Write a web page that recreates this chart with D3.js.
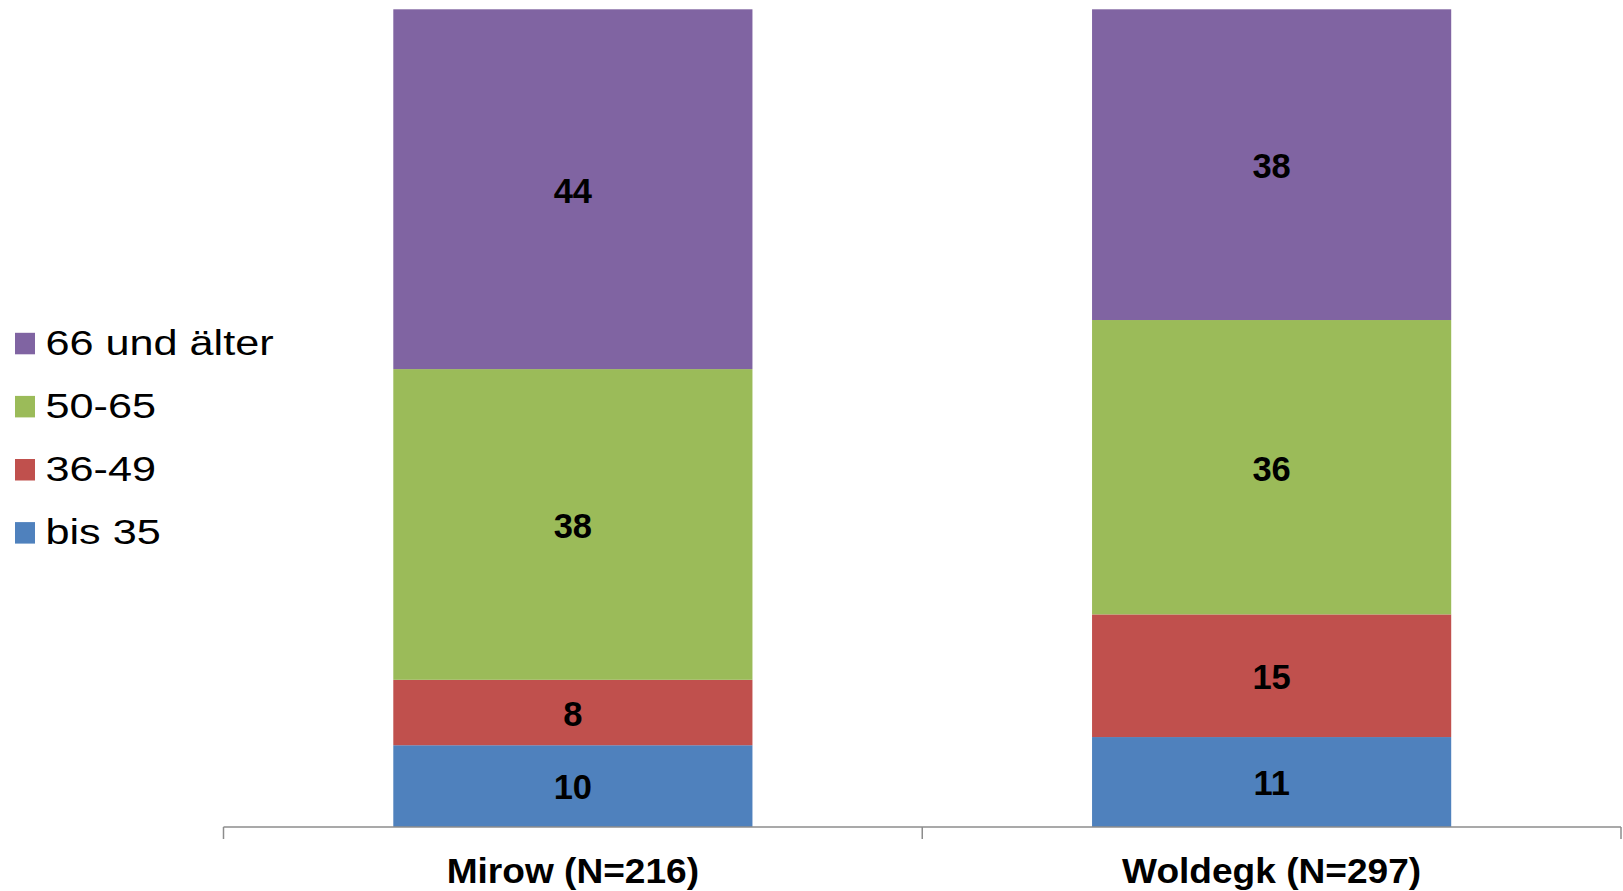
<!DOCTYPE html>
<html>
<head>
<meta charset="utf-8">
<script src="https://cdn.jsdelivr.net/npm/d3@7"></script>
<style>
  html, body { margin: 0; padding: 0; background: #fff; }
  svg { display: block; }
  text { font-family: "Liberation Sans", Arial, sans-serif; }
</style>
</head>
<body>
<svg id="chart" width="1623" height="891"></svg>
<script>
// Age groups of respondents per municipality (percent)
const categories = ["Mirow (N=216)", "Woldegk (N=297)"];
const ageGroups = ["bis 35", "36-49", "50-65", "66 und älter"];
const bis35 = [10, 11];
const age36to49 = [8, 15];
const age50to65 = [38, 36];
const age66plus = [44, 38];
const groupColors = ["#4F81BD", "#C0504D", "#9BBB59", "#8064A2"];

const seriesValues = [bis35, age36to49, age50to65, age66plus];
const rows = categories.map((c, i) => {
  const r = { category: c };
  ageGroups.forEach((g, k) => { r[g] = seriesValues[k][i]; });
  return r;
});

const svg = d3.select("#chart");
const plot = { left: 223.5, right: 1621, top: 9.3, bottom: 827 };

const x = d3.scaleBand()
  .domain(categories)
  .range([plot.left, plot.right])
  .paddingInner(0.486)
  .paddingOuter(0.243);

const y = d3.scaleLinear().domain([0, 100]).range([plot.bottom, plot.top]);

const color = d3.scaleOrdinal().domain(ageGroups).range(groupColors);

const stacked = d3.stack().keys(ageGroups)(rows);

// stacked bar segments
const layers = svg.append("g").selectAll("g")
  .data(stacked)
  .join("g")
  .attr("fill", d => color(d.key));

layers.selectAll("rect")
  .data(d => d)
  .join("rect")
  .attr("x", d => x(d.data.category))
  .attr("width", x.bandwidth())
  .attr("y", d => y(d[1]))
  .attr("height", d => y(d[0]) - y(d[1]));

// value labels centred in each segment
const labelSize = 34.5;
layers.selectAll("text")
  .data(d => d.map(s => ({ s, key: d.key })))
  .join("text")
  .attr("text-anchor", "middle")
  .attr("font-size", labelSize)
  .attr("font-weight", "bold")
  .attr("fill", "#000")
  .attr("transform", d => {
    const cx = x(d.s.data.category) + x.bandwidth() / 2;
    const cy = (y(d.s[0]) + y(d.s[1])) / 2 + labelSize * 0.358 + 1;
    return `translate(${cx},${cy})`;
  })
  .text(d => d.s.data[d.key]);

// category axis
const axisG = svg.append("g").attr("transform", `translate(0,${plot.bottom})`);
axisG.append("line")
  .attr("x1", plot.left).attr("x2", plot.right)
  .attr("y1", 0).attr("y2", 0)
  .attr("stroke", "#8c8c8c").attr("stroke-width", 1.7);

const step = x.step();
const boundaries = [plot.left, ...categories.map(c => x(c) - x.paddingInner() * step / 2 + step)];
axisG.selectAll("line.tick")
  .data(boundaries)
  .join("line")
  .attr("class", "tick")
  .attr("x1", d => d).attr("x2", d => d)
  .attr("y1", 0).attr("y2", 12)
  .attr("stroke", "#8c8c8c").attr("stroke-width", 1.5);

axisG.selectAll("text")
  .data(categories)
  .join("text")
  .attr("text-anchor", "middle")
  .attr("font-size", 35)
  .attr("font-weight", "bold")
  .attr("fill", "#000")
  .attr("transform", d => `translate(${x(d) + x.bandwidth() / 2},55.5) scale(1.06,1)`)
  .text(d => d);

// legend, top group first
const legendOrder = ageGroups.slice().reverse();
const legend = svg.append("g");
const entry = legend.selectAll("g")
  .data(legendOrder)
  .join("g")
  .attr("transform", (d, i) => `translate(0,${354.8 + i * 63.1})`);

entry.append("rect")
  .attr("x", 15).attr("y", -22)
  .attr("width", 20).attr("height", 21.5)
  .attr("fill", d => color(d));

entry.append("text")
  .attr("font-size", 36)
  .attr("fill", "#000")
  .attr("transform", `translate(45.5,0) scale(1.2,1)`)
  .text(d => d);
</script>
</body>
</html>
